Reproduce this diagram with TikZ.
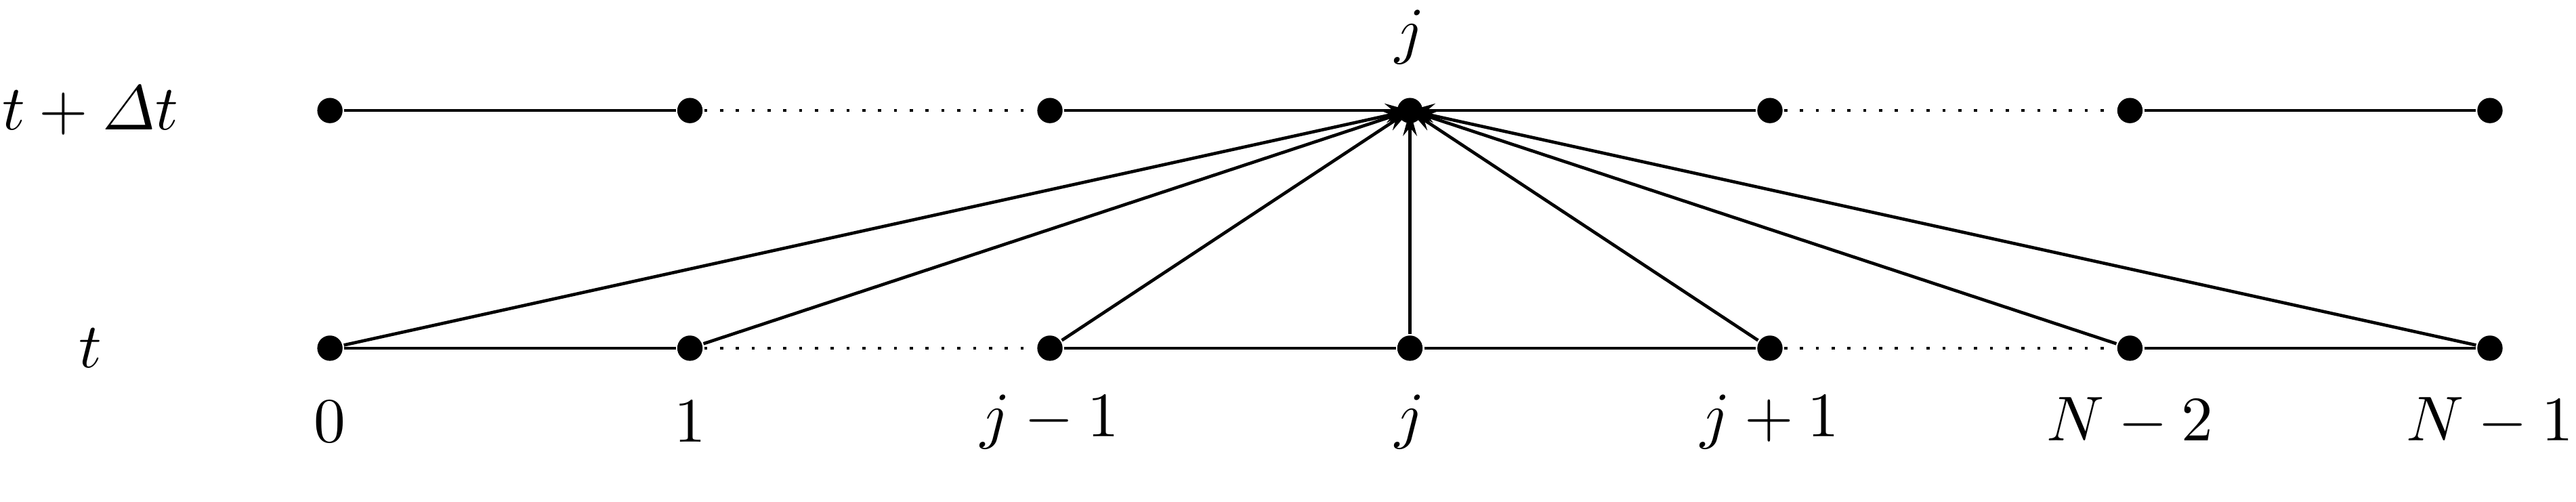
\documentclass[tikz,border=0pt]{standalone}
\usepackage{amsmath}
\usetikzlibrary{arrows.meta,positioning}

\begin{document}
\begin{tikzpicture}[x=2cm,y=1.32cm,line width=0.5pt,>={Stealth[length=4pt,width=2.2pt]},
    gridpt/.style={circle,fill=black,inner sep=0pt,minimum size=4pt}]
    \useasboundingbox (-1.833cm,-0.854cm) rectangle (12.478cm,1.934cm);

    \foreach \i in {0,...,6} {
      \node[gridpt] (b\i) at (\i,0) {};
      \node[gridpt] (t\i) at (\i,1) {};
    }

    \node at (-0.666,1) (lnext) {$t+\varDelta t$};
    \node at (-0.666,0) (lnow) {$t$};
    \node[above=1.5pt of t3] (lj) {$j$};
    \foreach \i/\lab in {0/0,1/1,2/j-1,3/j,4/j+1,5/N-2,6/N-1}
      \node at (\i,-0.31) (x\i) {$\lab$};

    \foreach \a/\b in {0/1,2/3,3/4,5/6}
      \draw (b\a) -- (b\b);
    \foreach \a/\b in {1/2,4/5} {
      \draw[dotted] (b\a) -- (b\b);
      \draw[dotted] (t\a) -- (t\b);
    }
    \draw (t0) -- (t1);
    \draw (t5) -- (t6);
    \draw[->] (t2) -- (t3.center);
    \draw[->] (t4) -- (t3.center);

    \foreach \i in {0,...,6}
      \draw[->] (b\i) -- (t3.center);
  \end{tikzpicture}
\end{document}
